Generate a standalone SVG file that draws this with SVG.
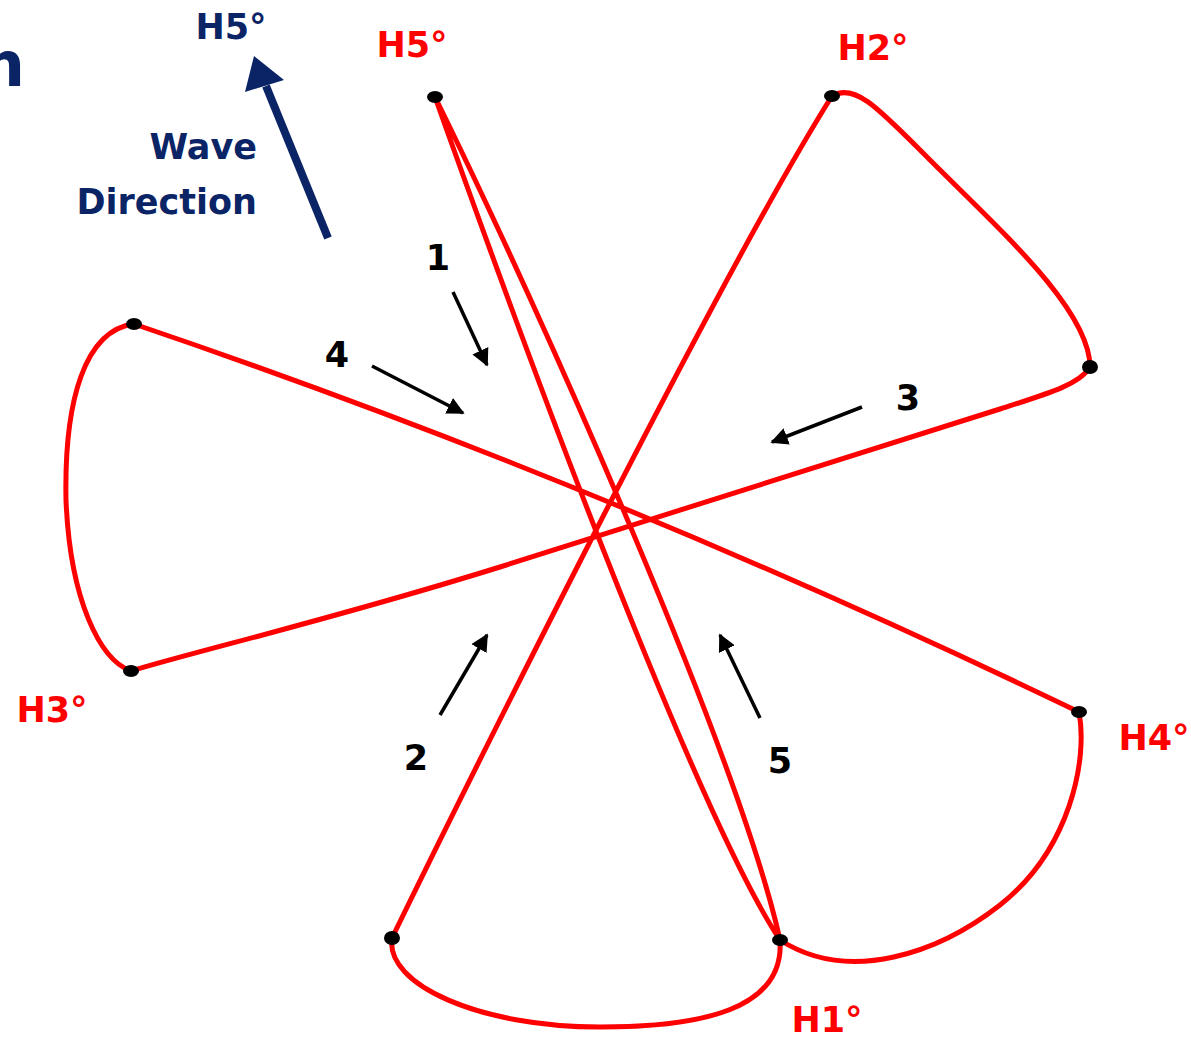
<svg xmlns="http://www.w3.org/2000/svg" width="1191" height="1040" viewBox="0 0 1191 1040">
<style>
.lbl{font-family:"DejaVu Sans",sans-serif;font-weight:bold;font-size:35px;}
.red{fill:#FF0000;}
.navy{fill:#0B2466;}
.blk{fill:#000;}
.curve{fill:none;stroke:#FF0000;stroke-width:5;stroke-linejoin:round;}
.dot{fill:#000;}
.arr{stroke:#000;stroke-width:3.5;fill:none;}
</style>
<defs>
<marker id="ah" viewBox="0 0 10 10" refX="9" refY="5" markerWidth="5" markerHeight="5" orient="auto" markerUnits="strokeWidth">
<path d="M0,0 L10,5 L0,10 z" fill="#000"/>
</marker>
</defs>
<rect width="1191" height="1040" fill="#fff"/>
<text x="25" y="86" text-anchor="end" class="navy" style="font-family:'DejaVu Sans',sans-serif;font-weight:bold;font-size:62px">n</text>
<g id="wave-direction">
<text x="231" y="39" text-anchor="middle" class="lbl navy">H5°</text>
<text x="257" y="159" text-anchor="end" class="lbl navy">Wave</text>
<text x="257" y="214" text-anchor="end" class="lbl navy">Direction</text>
<line x1="328" y1="238" x2="266" y2="86" stroke="#0B2466" stroke-width="8"/>
<polygon points="254,56 245,92 284,80" fill="#0B2466"/>
</g>
<g id="connectors">
<path class="curve" d="M435,97 C545,320 740,760 780,940 C785,1010 700,1027 600,1027 C480,1027 385,985 392,938 C430,860 710,290 832,96 C855,82 880,110 930,160 C1000,230 1090,310 1090,367 C1080,384 1050,393 1000,409 L500,567 C330,620 200,650 131,671 C100,660 70,600 66,500 C64,400 85,330 134,324 Q606,484 1079,712 C1088,760 1070,850 1000,905 C940,952 850,985 780,940 C720,850 600,560 435,97 Z"/>
</g>
<g id="H5"><ellipse class="dot" cx="435" cy="97" rx="8" ry="6"/><text x="412" y="57" text-anchor="middle" class="lbl red">H5°</text></g>
<g id="H2"><ellipse class="dot" cx="832" cy="96" rx="8" ry="6"/><text x="873" y="60" text-anchor="middle" class="lbl red">H2°</text></g>
<g id="P_right"><ellipse class="dot" cx="1090" cy="367" rx="8" ry="7"/></g>
<g id="H4"><ellipse class="dot" cx="1079" cy="712" rx="8" ry="6"/><text x="1154" y="750" text-anchor="middle" class="lbl red">H4°</text></g>
<g id="H1"><ellipse class="dot" cx="780" cy="940" rx="8" ry="6"/><text x="827" y="1032" text-anchor="middle" class="lbl red">H1°</text></g>
<g id="P_bottom_left"><ellipse class="dot" cx="392" cy="938" rx="8" ry="7"/></g>
<g id="H3"><ellipse class="dot" cx="131" cy="671" rx="8" ry="6"/><text x="52" y="722" text-anchor="middle" class="lbl red">H3°</text></g>
<g id="P_top_left"><ellipse class="dot" cx="134" cy="324" rx="8" ry="6"/></g>
<g id="arrow1"><text x="438" y="270" text-anchor="middle" class="lbl blk">1</text><line class="arr" x1="453" y1="292" x2="487" y2="365" marker-end="url(#ah)"/></g>
<g id="arrow4"><text x="337" y="367" text-anchor="middle" class="lbl blk">4</text><line class="arr" x1="372" y1="366" x2="463" y2="413" marker-end="url(#ah)"/></g>
<g id="arrow3"><text x="908" y="410" text-anchor="middle" class="lbl blk">3</text><line class="arr" x1="862" y1="407" x2="772" y2="442" marker-end="url(#ah)"/></g>
<g id="arrow2"><text x="416" y="770" text-anchor="middle" class="lbl blk">2</text><line class="arr" x1="440" y1="715" x2="487" y2="635" marker-end="url(#ah)"/></g>
<g id="arrow5"><text x="780" y="773" text-anchor="middle" class="lbl blk">5</text><line class="arr" x1="760" y1="718" x2="720" y2="635" marker-end="url(#ah)"/></g>
</svg>
